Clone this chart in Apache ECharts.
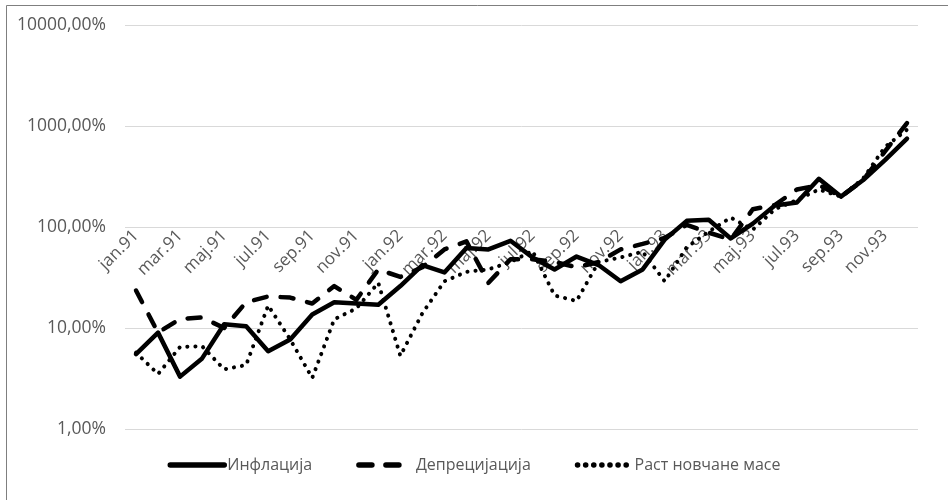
<!DOCTYPE html>
<html>
<head>
<meta charset="utf-8">
<script src="https://cdn.jsdelivr.net/npm/echarts@6/dist/echarts.min.js"></script>
<style>
  html, body { margin: 0; padding: 0; background: #ffffff; }
  #chart { width: 948px; height: 500px; }
</style>
</head>
<body>
<div id="chart"></div>
<script>
// Monthly categories, Jan 1991 – Dec 1993
const months = [
  'jan.91','feb.91','mar.91','apr.91','maj.91','jun.91','jul.91','avg.91','sep.91','okt.91','nov.91','dec.91',
  'jan.92','feb.92','mar.92','apr.92','maj.92','jun.92','jul.92','avg.92','sep.92','okt.92','nov.92','dec.92',
  'jan.93','feb.93','mar.93','apr.93','maj.93','jun.93','jul.93','avg.93','sep.93','okt.93','nov.93','dec.93'
];

// Monthly rates, in percent
const inflacija = [
  5.5, 9.0, 3.3, 5.0, 10.9, 10.4, 5.9, 7.7, 13.6, 18, 17.5, 17,
  26, 42, 35.5, 62, 60, 73, 50, 38, 51, 42, 29, 38,
  75, 115, 118, 77, 108, 163, 175, 300, 200, 290, 460, 750
];
const deprecijacija = [
  23.5, 9.0, 12.3, 12.7, 10, 18, 20.5, 20, 17.5, 26, 19, 38,
  32, 40, 60, 72, 28, 48, 48, 45, 40, 45, 60, 68,
  78, 105, 88, 75, 150, 165, 235, 260, 200, 290, 560, 1070
];
const rastNovcaneMase = [
  5.7, 3.5, 6.5, 6.6, 3.9, 4.3, 16.7, 7.7, 3.2, 12.2, 15.6, 28,
  5.3, 14, 29, 36, 38, 45, 58, 21, 18.5, 45, 50, 57,
  29, 63, 90, 124, 94, 150, 185, 235, 200, 300, 620, 920
];

// Value-axis ticks (percent)
const yTicks = [1, 10, 100, 1000, 10000];

const seriesNames = ['Инфлација', 'Депрецијација', 'Раст новчане масе'];

const font = 'Open Sans';
const textColor = '#595959';

const chart = echarts.init(document.getElementById('chart'), null, { renderer: 'canvas' });

chart.setOption({
  animation: false,
  backgroundColor: '#ffffff',
  textStyle: { fontFamily: font },
  grid: { left: 125, right: 30, top: 25, bottom: 71, containLabel: false },
  legend: {
    bottom: 22,
    left: 'center',
    itemWidth: 54,
    itemHeight: 14,
    itemGap: 44,
    // line-only keys, drawn a little heavier than the series
    itemStyle: { opacity: 0 },
    lineStyle: { width: 5.5 },
    textStyle: { fontFamily: font, fontSize: 16, color: textColor, padding: [0, 0, 0, -2] },
    data: seriesNames
  },
  xAxis: {
    type: 'category',
    data: months,
    boundaryGap: true,
    // horizontal axis crosses the value axis at 100%
    offset: -202,
    axisLine: { show: false },
    axisTick: { show: false },
    axisLabel: {
      interval: 1,
      rotate: 45,
      margin: 6,
      fontFamily: font,
      fontSize: 17,
      color: textColor
    },
    splitLine: { show: false }
  },
  yAxis: {
    type: 'log',
    logBase: 10,
    min: yTicks[0],
    max: yTicks[yTicks.length - 1],
    axisLine: { show: false },
    axisTick: { show: false },
    axisLabel: {
      margin: 19,
      fontFamily: font,
      fontSize: 17.5,
      color: textColor,
      formatter: v => String(Math.round(v)) + ',00%'
    },
    splitLine: { show: true, lineStyle: { color: '#d9d9d9', width: 1 } }
  },
  series: [
    {
      name: seriesNames[0],
      type: 'line',
      data: inflacija,
      symbol: 'none',
      z: 3,
      itemStyle: { color: '#000000' },
      lineStyle: { color: '#000000', width: 4.5, cap: 'round', join: 'round' }
    },
    {
      name: seriesNames[1],
      type: 'line',
      data: deprecijacija,
      symbol: 'none',
      z: 2,
      itemStyle: { color: '#000000' },
      lineStyle: { color: '#000000', width: 4.5, type: [13, 14], cap: 'round', join: 'round' }
    },
    {
      name: seriesNames[2],
      type: 'line',
      data: rastNovcaneMase,
      symbol: 'none',
      z: 1,
      itemStyle: { color: '#000000' },
      lineStyle: { color: '#000000', width: 4, type: [0.1, 8], cap: 'round', join: 'round' }
    }
  ],
  graphic: [
    { type: 'line', shape: { x1: 6.5, y1: 5.5, x2: 6.5, y2: 500 }, style: { stroke: '#7f7f7f', lineWidth: 1 } },
    { type: 'line', shape: { x1: 6.5, y1: 5.5, x2: 948, y2: 5.5 }, style: { stroke: '#7f7f7f', lineWidth: 1 } }
  ]
});
</script>
</body>
</html>
